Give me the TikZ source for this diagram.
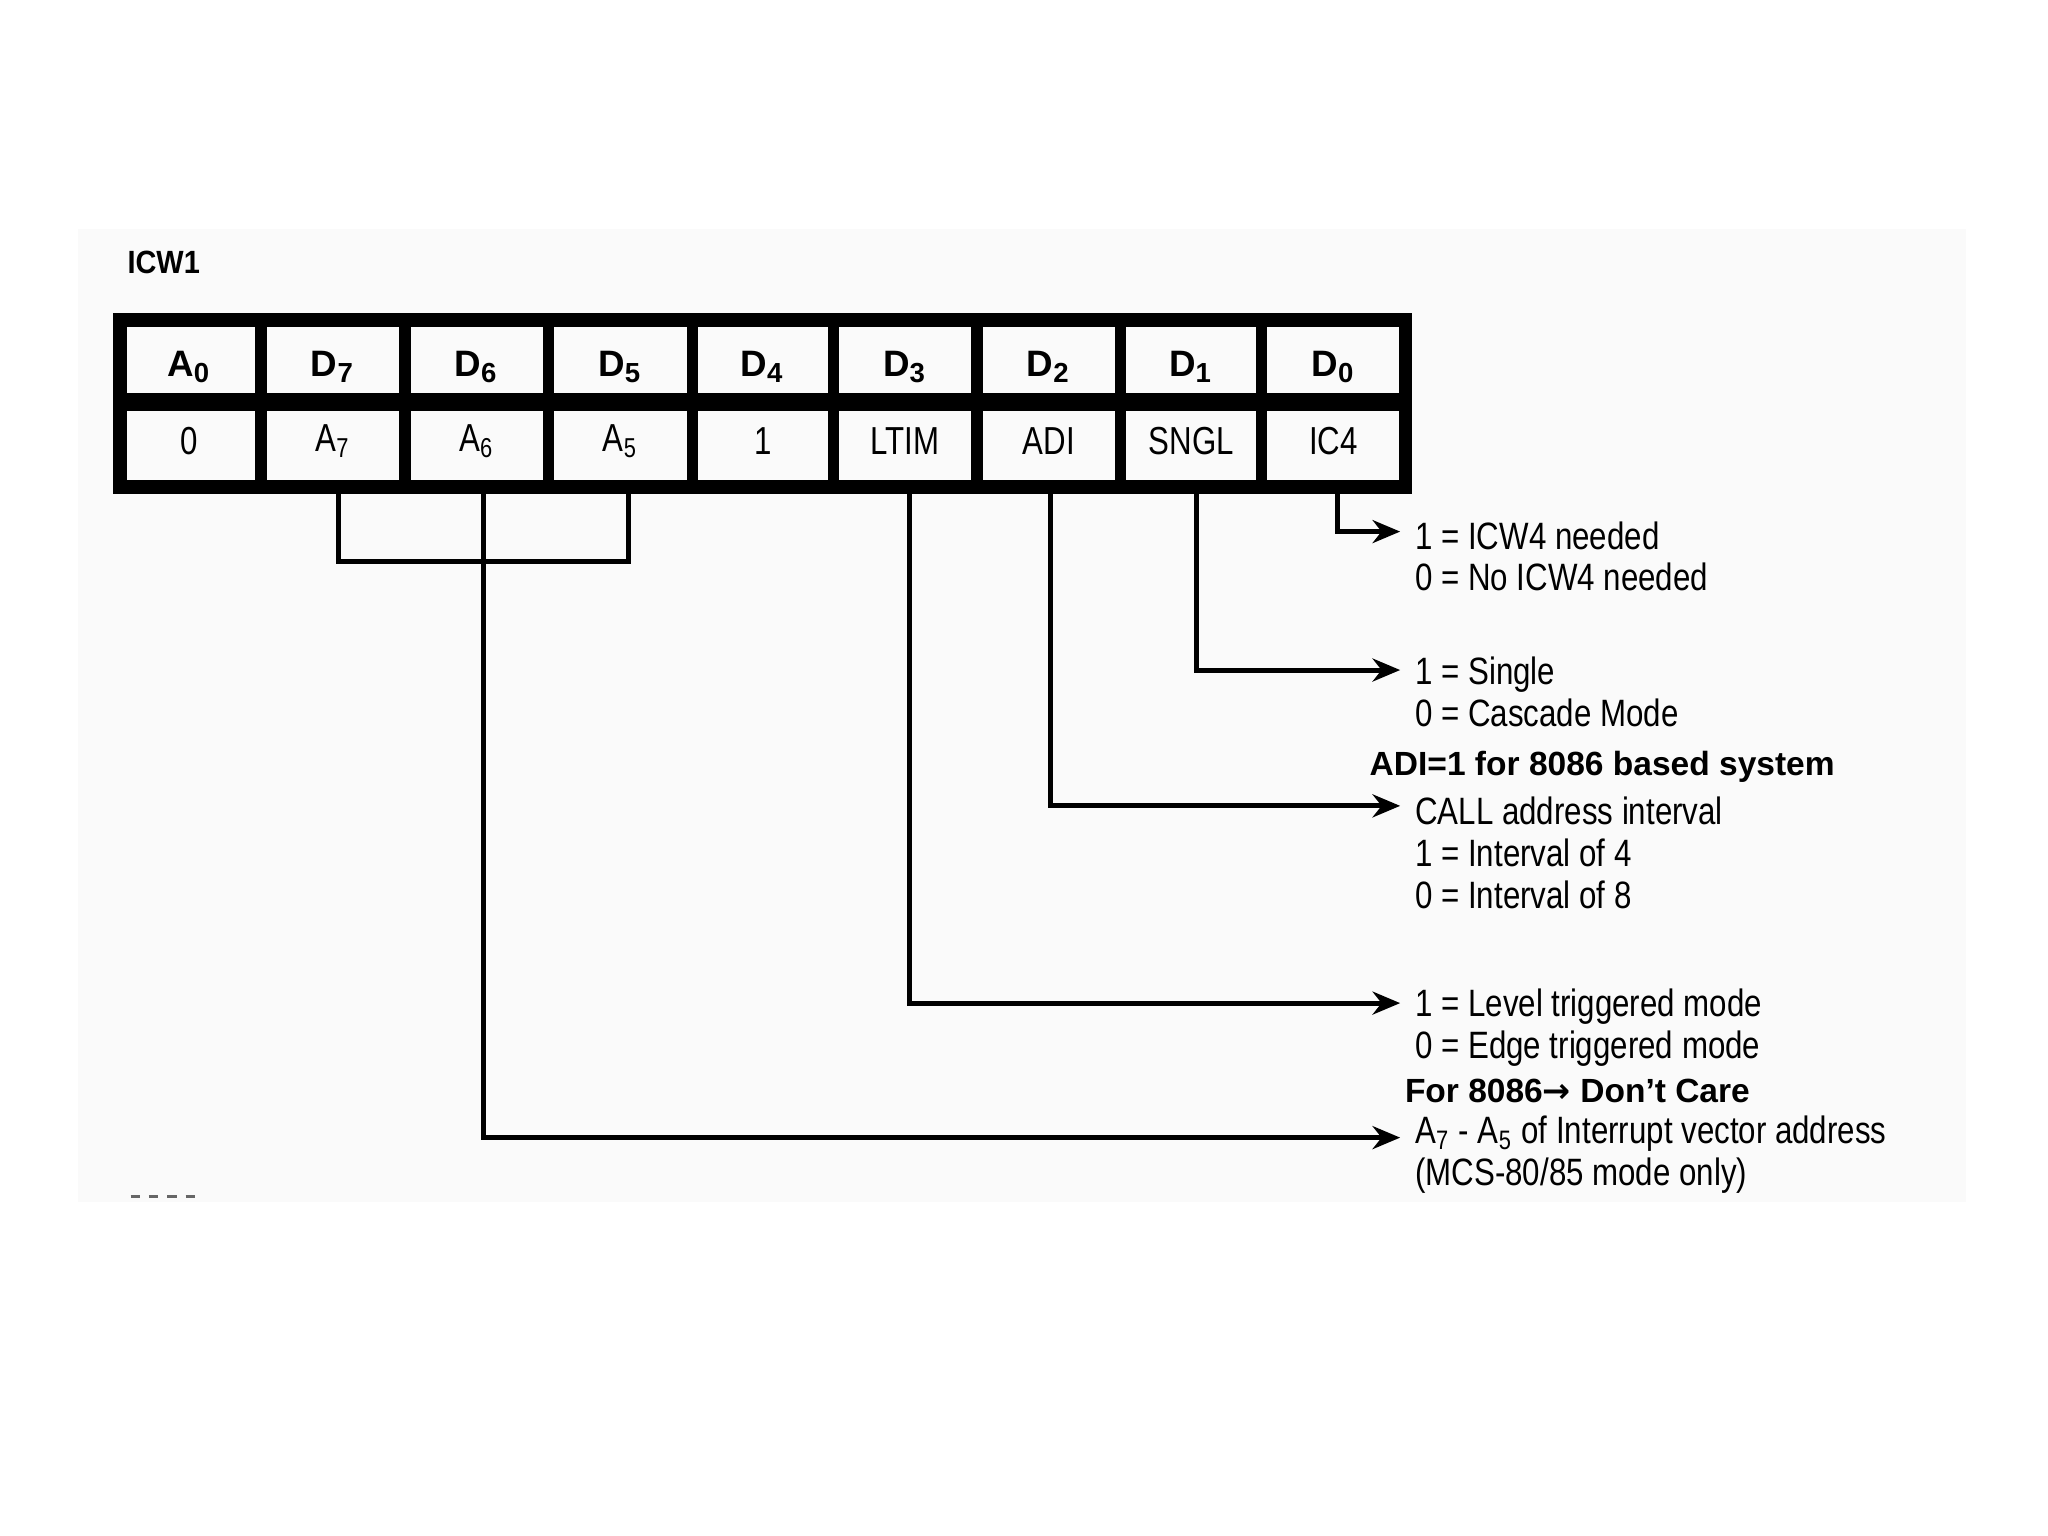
\documentclass[tikz,border=0pt]{standalone}
\usepackage{fontspec}
\setmainfont{Liberation Sans}
\newfontfamily\symfont{DejaVu Sans}
\usetikzlibrary{arrows.meta}
\begin{document}
\begin{tikzpicture}[x=0.01cm,y=-0.01cm,
  cell/.style={font=\fontsize{8.5}{10}\selectfont},
  hd/.style={font=\fontsize{8}{10}\selectfont\bfseries},
  lab/.style={anchor=west,font=\fontsize{8.3}{9.1}\selectfont,xscale=0.82,inner sep=0pt,align=left},
  note/.style={anchor=west,font=\fontsize{7.3}{9}\selectfont\bfseries,inner sep=0pt},
  con/.style={line width=1.1pt},
  arr/.style={line width=1.1pt,-{Stealth[length=6pt,width=5pt]}}]
\useasboundingbox (0,0) rectangle (1568,1176);
\fill[white] (0,0) rectangle (1568,1176);
\fill[black!2] (60,175) rectangle (1505,920);
\node[font=\fontsize{7}{9}\selectfont\bfseries,xscale=0.9,anchor=west,inner sep=0pt] (t) at (97,201) {ICW1};
\draw[black!60,line width=0.6pt,dash pattern=on 2pt off 2pt] (100,916) -- (155,916);
% table
\draw[line width=3pt] (92,245) rectangle (1076,373);
\draw[line width=4pt] (92,308) -- (1076,308);
\foreach \x in {200,310,420,530,638,748,858,966}{\draw[line width=2.5pt] (\x,245) -- (\x,373);}
\foreach \c/\x/\a/\b in {c0/145/A\textsubscript{0}/0,c1/255/D\textsubscript{7}/A\textsubscript{7},c2/365/D\textsubscript{6}/A\textsubscript{6},c3/475/D\textsubscript{5}/A\textsubscript{5},c4/584/D\textsubscript{4}/1,c5/693/D\textsubscript{3}/LTIM,c6/803/D\textsubscript{2}/ADI,c7/912/D\textsubscript{1}/SNGL,c8/1021/D\textsubscript{0}/IC4}{
  \node[hd] (h\c) at (\x,281) {\a};
  \node[cell,xscale=0.8] (v\c) at (\x,338) {\b};}
% labels
\node[lab] (l0) at (1083,426) {1 = ICW4 needed\\0 = No ICW4 needed};
\node[lab] (l1) at (1083,530) {1 = Single\\0 = Cascade Mode};
\node[note] (n1) at (1048,587) {ADI=1 for 8086 based system};
\node[lab] (l2) at (1083,653) {CALL address interval\\1 = Interval of 4\\0 = Interval of 8};
\node[lab] (l3) at (1083,787) {1 = Level triggered mode\\0 = Edge triggered mode};
\node[note] (n2) at (1075,835) {For 8086{\symfont\bfseries →} Don’t Care};
\node[lab] (l4) at (1083,884) {A\textsubscript{7} - A\textsubscript{5} of Interrupt vector address\\(MCS-80/85 mode only)};
\coordinate (e0) at (1072,407);
\coordinate (e1) at (1072,513);
\coordinate (e2) at (1072,617);
\coordinate (e3) at (1072,768);
\coordinate (e4) at (1072,871);
% connectors
\draw[arr] (1024,373) |- (e0);
\draw[arr] (916,373) |- (e1);
\draw[arr] (804,373) |- (e2);
\draw[arr] (696,373) |- (e3);
\draw[arr] (370,373) |- (e4);
\draw[con] (259,373) |- (481,430) -- (481,373);
\end{tikzpicture}
\end{document}
